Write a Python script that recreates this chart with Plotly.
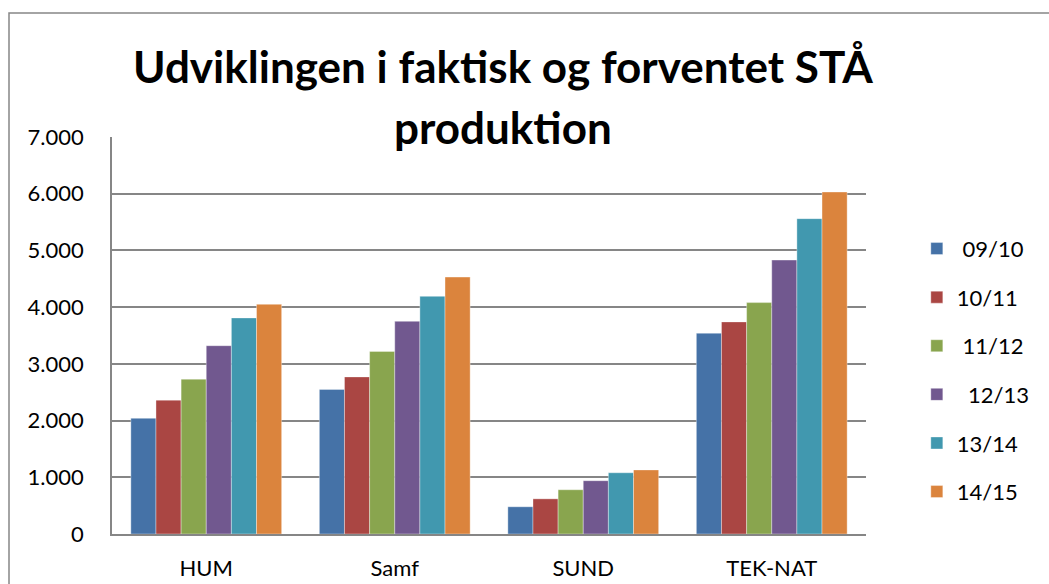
import plotly.graph_objects as go

categories = ["HUM", "Samf", "SUND", "TEK-NAT"]
series_names = [" 09/10", "10/11", " 11/12", "  12/13", "13/14", "14/15"]
values_0910 = [2040, 2550, 480, 3540]
values_1011 = [2360, 2770, 620, 3740]
values_1112 = [2730, 3220, 780, 4080]
values_1213 = [3320, 3750, 940, 4830]
values_1314 = [3810, 4190, 1080, 5560]
values_1415 = [4050, 4530, 1130, 6030]
all_values = [values_0910, values_1011, values_1112, values_1213, values_1314, values_1415]
colors = ["#4572A7", "#AA4643", "#89A54E", "#71588F", "#4198AF", "#DB843D"]
title_lines = ["Udviklingen i faktisk og forventet STÅ", "produktion"]

FONT = "Lato"
fig = go.Figure()
for i, (name, vals, col) in enumerate(zip(series_names, all_values, colors)):
    fig.add_trace(go.Bar(
        x=categories, y=vals, name=name, legendgroup=f"g{i}",
        marker=dict(color=col, line=dict(color="rgba(255,255,255,0.45)", width=0.8)),
    ))

fig.update_layout(
    width=1049, height=584,
    margin=dict(l=112, r=183, t=137, b=50, autoexpand=False),
    paper_bgcolor="white", plot_bgcolor="white",
    barmode="group", bargap=0.2, bargroupgap=0,
    separators=",.",
    font=dict(family=FONT, color="black", size=22),
    showlegend=True,
    legend=dict(xref="container", yref="container", x=0.874, xanchor="left",
                y=0.61, yanchor="top",
                font=dict(family=FONT, size=22, color="black"),
                tracegroupgap=17, itemwidth=30, bgcolor="rgba(0,0,0,0)"),
    xaxis=dict(showline=True, linecolor="#868686", linewidth=2, ticks="",
               automargin=False,
               tickfont=dict(family=FONT, size=22, color="black"),
               ticklabelstandoff=14),
    yaxis=dict(range=[0, 7000], dtick=1000, tickformat=",d", automargin=False,
               showgrid=True, gridcolor="#868686", gridwidth=1.5,
               showline=True, linecolor="#868686", linewidth=1.5,
               zeroline=False, ticks="",
               tickfont=dict(family=FONT, size=22, color="black"),
               ticklabelstandoff=22),
)

ys = [1.178, 1.025]
for txt, yv in zip(title_lines, ys):
    fig.add_annotation(text=f"<b>{txt}</b>", xref="paper", yref="paper",
                       x=0.518, y=yv, xanchor="center", yanchor="middle",
                       showarrow=False, font=dict(family=FONT, size=44, color="black"))

fig.add_shape(type="rect", xref="paper", yref="paper",
              x0=-0.1366, x1=1.2507, y0=-0.141, y1=1.3123,
              line=dict(color="#868686", width=1.5), layer="below")

fig.write_html("out.html", config={"displayModeBar": False},
               post_script="document.body.style.margin='0';document.body.style.overflow='hidden';")
